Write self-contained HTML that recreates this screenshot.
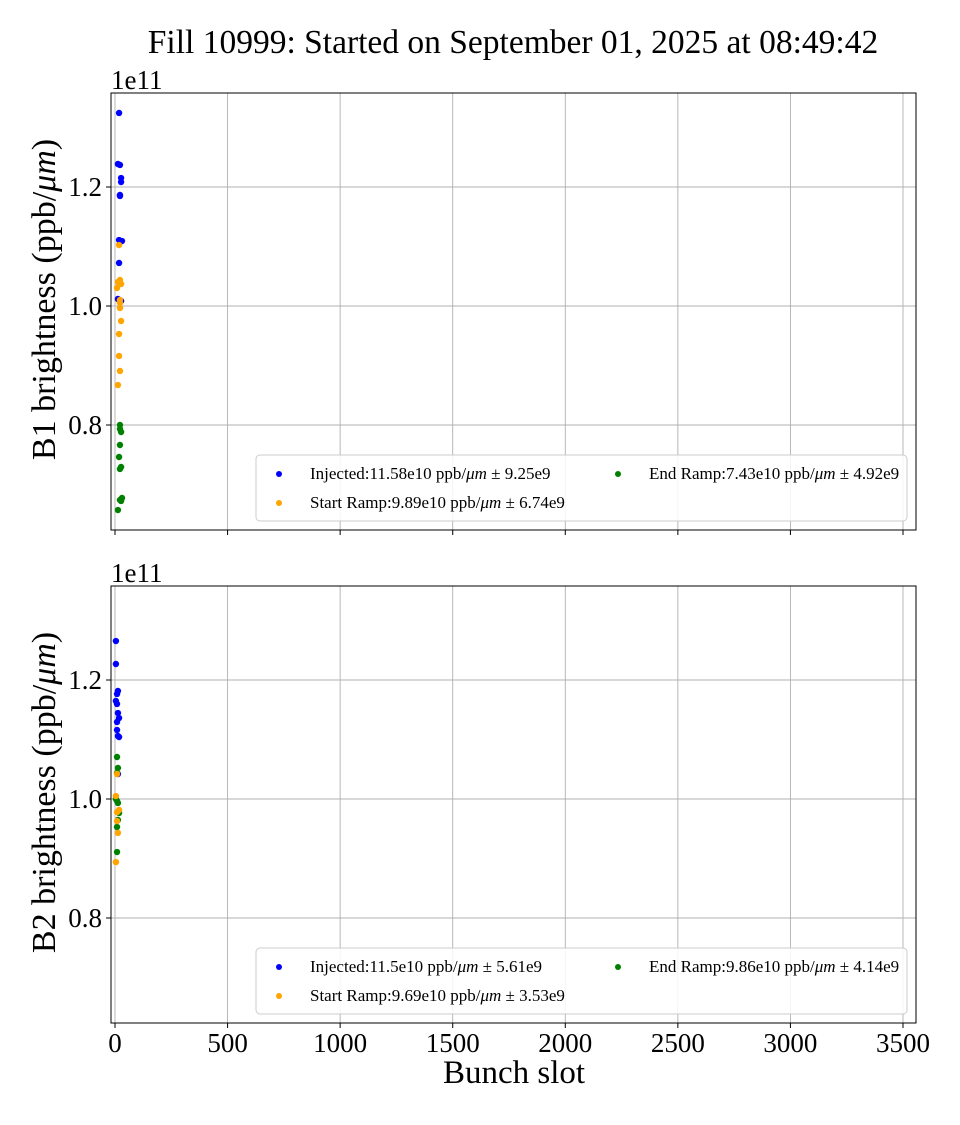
<!DOCTYPE html>
<html><head><meta charset="utf-8"><style>
body{margin:0;background:#fff}
svg{font-family:"Liberation Serif",serif}
</style></head><body>
<svg id="c" width="960" height="1120" xmlns="http://www.w3.org/2000/svg">
<rect width="960" height="1120" fill="#fff"/>
<text x="513" y="53" font-size="33.5" text-anchor="middle">Fill 10999: Started on September 01, 2025 at 08:49:42</text>
<g id="p1"></g><g id="p2"></g>
<text x="514" y="1083" font-size="33" text-anchor="middle">Bunch slot</text>
</svg>
<script>
const xTicks=[0,500,1000,1500,2000,2500,3000,3500];
const yTicks=[0.8,1.0,1.2];
const b1InjX=[18,13,22,27,27,22,22,18,31,18,13,27];
const b1InjY=[1.3244,1.2387,1.2370,1.2151,1.2084,1.1866,1.1849,1.1109,1.1092,1.0723,1.0118,1.0084];
const b1StartX=[18,13,27,22,9,22,22,22,27,18,18,22,13];
const b1StartY=[1.1025,1.0403,1.0370,1.0437,1.0303,1.0101,1.0050,0.9966,0.9748,0.9529,0.9160,0.8908,0.8672];
const b1EndX=[22,22,27,22,18,22,27,31,22,27,13];
const b1EndY=[0.8000,0.7933,0.7882,0.7664,0.7462,0.7261,0.7294,0.6773,0.6739,0.6723,0.6571];
const b2InjX=[4,4,13,9,4,9,13,18,9,9,13,18,13];
const b2InjY=[1.2655,1.2269,1.1815,1.1765,1.1647,1.1597,1.1445,1.1361,1.1294,1.1160,1.1059,1.1042,1.0420];
const b2StartX=[9,4,18,9,13,4,9];
const b2StartY=[1.0420,1.0050,0.9815,0.9630,0.9430,0.8940,0.9780];
const b2EndX=[9,13,9,4,9,13,18,13,9,9];
const b2EndY=[1.0706,1.0521,1.0437,1.0000,0.9966,0.9933,0.9765,0.9647,0.9529,0.9109];
const NS="http://www.w3.org/2000/svg";
function mk(p,t,a){const e=document.createElementNS(NS,t);for(const k in a)e.setAttribute(k,a[k]);p.appendChild(e);return e;}
function panel(g,top,label,series,legend,showX){
  const L=111,R=916,T=top,B=top+437;
  const xs=v=>115+v*(788/3500);
  const ys=v=>T+94-(v-1.2)*595;
  mk(g,'rect',{x:L,y:T,width:R-L,height:B-T,fill:'#fff'});
  for(const t of xTicks){const l=mk(g,'line',{x1:xs(t),x2:xs(t),y1:T,y2:B,stroke:'#b0b0b0','stroke-width':0.9});
    
    
    mk(g,'line',{x1:xs(t),x2:xs(t),y1:B,y2:B+5,stroke:'#000'});
    if(showX){const tx=mk(g,'text',{x:xs(t),y:B+29,'font-size':27,'text-anchor':'middle'});tx.textContent=t;
      
      }}
  for(const t of yTicks){const l=mk(g,'line',{x1:L,x2:R,y1:ys(t),y2:ys(t),stroke:'#b0b0b0','stroke-width':0.9});
    
    
    mk(g,'line',{x1:L-5,x2:L,y1:ys(t),y2:ys(t),stroke:'#000'});
    const tx=mk(g,'text',{x:L-9,y:ys(t)+9,'font-size':27,'text-anchor':'end'});tx.textContent=t.toFixed(1);
    
    }
  const off=mk(g,'text',{x:111,y:T-4,'font-size':27});off.textContent='1e11';
  
  
  const yl=mk(g,'text',{x:0,y:0,'font-size':34,'text-anchor':'middle',transform:`translate(55,${(T+B)/2-12}) rotate(-90)`});
  yl.innerHTML=label+' brightness (ppb/<tspan font-style="italic">μm</tspan>)';
  
  
  for(const s of series){for(let i=0;i<s.x.length;i++){const c=mk(g,'circle',{cx:xs(s.x[i]),cy:ys(s.y[i]),r:3.2,fill:s.c});
    
    }}
  mk(g,'rect',{x:L,y:T,width:R-L,height:B-T,fill:'none',stroke:'#000','stroke-width':1});
  const lg=mk(g,'g',{});
  
  
  const ly=T+362;
  mk(lg,'rect',{x:256,y:ly,width:651,height:66,rx:4,fill:'#fff','fill-opacity':0.85,stroke:'#ccc'});
  const pos=[[279,ly+19],[279,ly+48],[618,ly+19]];
  legend.forEach((e,i)=>{const [x,y]=pos[i];mk(lg,'circle',{cx:x,cy:y,r:3,fill:e.c});
    const t=mk(lg,'text',{x:x+31,y:y+5,'font-size':17});t.innerHTML=e.t;
    
    });
}
const um='ppb/<tspan font-style="italic">μm</tspan>';
panel(document.getElementById('p1'),93,'B1',[
 {x:b1InjX,y:b1InjY,c:'#0000ff',n:'injected'},{x:b1StartX,y:b1StartY,c:'#ffa500',n:'start-ramp'},{x:b1EndX,y:b1EndY,c:'#008000',n:'end-ramp'}],
 [{c:'#0000ff',t:'Injected:11.58e10 '+um+' ± 9.25e9'},{c:'#ffa500',t:'Start Ramp:9.89e10 '+um+' ± 6.74e9'},{c:'#008000',t:'End Ramp:7.43e10 '+um+' ± 4.92e9'}],false);
panel(document.getElementById('p2'),586,'B2',[
 {x:b2InjX,y:b2InjY,c:'#0000ff',n:'injected'},{x:b2EndX,y:b2EndY,c:'#008000',n:'end-ramp'},{x:b2StartX,y:b2StartY,c:'#ffa500',n:'start-ramp'}],
 [{c:'#0000ff',t:'Injected:11.5e10 '+um+' ± 5.61e9'},{c:'#ffa500',t:'Start Ramp:9.69e10 '+um+' ± 3.53e9'},{c:'#008000',t:'End Ramp:9.86e10 '+um+' ± 4.14e9'}],true);
</script>
</body></html>
